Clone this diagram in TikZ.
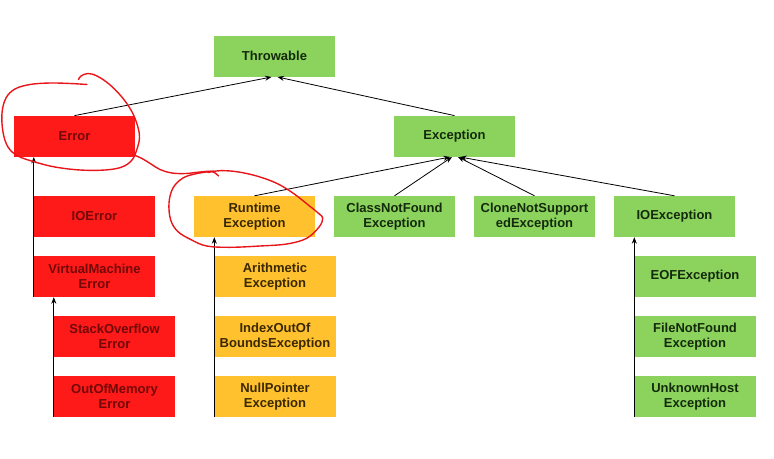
\documentclass[tikz,border=0pt]{standalone}
\usepackage{fontspec}
\setmainfont{Liberation Sans}
\usetikzlibrary{arrows.meta}
\definecolor{boxred}{HTML}{FF1A1A}
\definecolor{txtred}{HTML}{720808}
\definecolor{boxgreen}{HTML}{8CD35E}
\definecolor{txtgreen}{HTML}{142A0C}
\definecolor{boxorange}{HTML}{FFC12E}
\definecolor{txtorange}{HTML}{3A2800}
\definecolor{inkred}{HTML}{E8161A}
\tikzset{
  box/.style={rectangle, minimum width=121pt, minimum height=41pt, inner sep=0pt,
    align=center, font=\fontsize{13}{15.6}\selectfont\bfseries},
  redbox/.style={box, fill=boxred, text=txtred},
  greenbox/.style={box, fill=boxgreen, text=txtgreen},
  orangebox/.style={box, fill=boxorange, text=txtorange},
  arr/.style={draw=black, line width=0.8pt, -{Stealth[length=6.5pt,width=5pt]}},
  ink/.style={draw=inkred, line width=1.4pt, line cap=round, line join=round}
}
\begin{document}
\begin{tikzpicture}[x=1pt,y=-1pt]
\useasboundingbox (0,0) rectangle (774,458);
% row 0
\node[greenbox] (thr) at (274.5,56.3) {Throwable};
% row 1
\node[redbox] (err) at (74.5,136.3) {Error};
\node[greenbox] (exc) at (454.5,136.3) {Exception};
% row 2
\node[redbox] (ioerr) at (94.5,216.5) {IOError};
\node[orangebox] (rt) at (254.5,216.5) {Runtime\\Exception};
\node[greenbox] (cnf) at (394.5,216.5) {ClassNotFound\\Exception};
\node[greenbox] (cns) at (534.5,216.5) {CloneNotSupport\\edException};
\node[greenbox] (ioe) at (674.5,216.5) {IOException};
% row 3
\node[redbox] (vme) at (94.5,276.5) {VirtualMachine\\Error};
\node[orangebox] (ar) at (275,276.5) {Arithmetic\\Exception};
\node[greenbox] (eof) at (695,276.5) {EOFException};
% row 4
\node[redbox] (soe) at (114.5,336.5) {StackOverflow\\Error};
\node[orangebox] (ioob) at (275,336.5) {IndexOutOf\\BoundsException};
\node[greenbox] (fnf) at (695,336.5) {FileNotFound\\Exception};
% row 5
\node[redbox] (oom) at (114.5,396.5) {OutOfMemory\\Error};
\node[orangebox] (np) at (275,396.5) {NullPointer\\Exception};
\node[greenbox] (uh) at (695,396.5) {UnknownHost\\Exception};

% connectors
\draw[arr] (err.north) -- ([xshift=-3pt]thr.south);
\draw[arr] (exc.north) -- ([xshift=3pt]thr.south);
\draw[arr] (rt.north) -- ([xshift=-4.5pt]exc.south);
\draw[arr] (cnf.north) -- ([xshift=-2.5pt]exc.south);
\draw[arr] (cns.north) -- ([xshift=3.5pt]exc.south);
\draw[arr] (ioe.north) -- ([xshift=5.5pt]exc.south);
\draw[arr] (vme.south west) -- (vme.south west |- err.south);
\draw[arr] (oom.south west) -- (oom.south west |- vme.south);
\draw[arr] (np.south west) -- (np.south west |- rt.south);
\draw[arr] (uh.south west) -- (uh.south west |- ioe.south);

% red hand-drawn annotations
\draw[ink] plot[smooth, tension=0.6] coordinates {
  (87,84.5) (70,83.5) (50,83) (30,84.5) (15,89) (6,98) (2,113) (3,132) (8,147)
  (18,156) (35,162) (55,167) (80,170) (105,170) (122,167) (132,160) (137,149)
  (139.5,137) (137,124) (131,110) (121,96) (109,84) (97,76) (88,73.5) (81,76) (78.5,79.5)};
\draw[ink] plot[smooth, tension=0.6] coordinates {
  (134,155) (142,158.5) (151,164) (160,169.5) (172,173) (186,173.5) (200,172)
  (212,171.5) (218.5,176)};
\draw[ink] plot[smooth, tension=0.6] coordinates {
  (214,171) (197,173.5) (183,178) (173,188) (169,203) (170.7,220) (178,231.7)
  (191.7,240) (206.7,246) (230,247.3) (260,246) (286.7,244) (306.7,238.3)
  (319.3,226.7) (322.7,218.3) (319.3,214) (308.3,205) (293.3,193.3) (276.7,183.3)
  (256.7,176) (236.7,171.7) (220,170.7) (208,172.5)};
\end{tikzpicture}
\end{document}
